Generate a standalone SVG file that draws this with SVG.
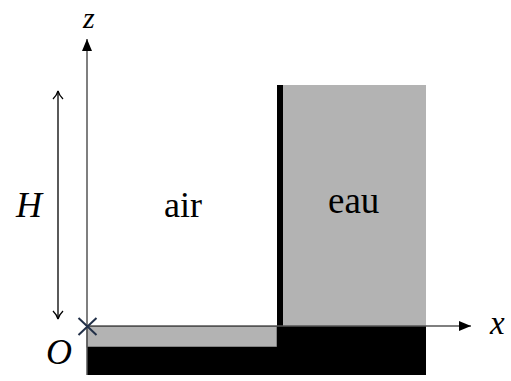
<svg xmlns="http://www.w3.org/2000/svg" width="511" height="381" viewBox="0 0 511 381">
<style>
.ax{stroke:#555;stroke-width:1.5;fill:none}
.grey{fill:#b3b3b3}
.blk{fill:#000}
</style>
<defs>
<marker id="tri" viewBox="0 0 12 10" refX="12" refY="5" markerWidth="12" markerHeight="10" markerUnits="userSpaceOnUse" orient="auto">
<path d="M0,0 L12,5 L0,10 Z" fill="#000"/>
</marker>
<marker id="open" viewBox="0 0 10 12" refX="9" refY="6" markerWidth="10" markerHeight="12" markerUnits="userSpaceOnUse" orient="auto-start-reverse">
<path d="M1,1 Q5,5 9,6 Q5,7 1,11" fill="none" stroke="#000" stroke-width="1.3"/>
</marker>
</defs>
<g id="water">
<rect class="grey" x="283" y="85" width="143" height="241"/>
</g>
<g id="wall">
<rect class="blk" x="277" y="85" width="6" height="242"/>
</g>
<g id="strip">
<rect class="grey" x="87" y="326.5" width="190" height="20.5" stroke="#555" stroke-width="1"/>
</g>
<g id="floor">
<path class="blk" d="M87,347 H277 V326 H426 V375 H87 Z"/>
</g>
<g id="connectors">
<line class="ax" x1="87" y1="375" x2="87" y2="39" marker-end="url(#tri)"/>
<line class="ax" x1="87" y1="326" x2="471" y2="326" marker-end="url(#tri)"/>
<line x1="58" y1="91" x2="58" y2="319" stroke="#000" stroke-width="1.3" marker-start="url(#open)" marker-end="url(#open)"/>
</g>
<g id="origin">
<path d="M78.5,318 L96.5,335 M96.5,318 L78.5,335" stroke="#223048" stroke-width="2"/>
</g>
<text x="83" y="28" font-family="Liberation Serif" font-style="italic" font-size="30">z</text>
<text x="490" y="334" font-family="Liberation Serif" font-style="italic" font-size="33">x</text>
<text x="46" y="364" font-family="Liberation Serif" font-style="italic" font-size="36">O</text>
<text x="16" y="217" font-family="Liberation Serif" font-style="italic" font-size="36">H</text>
<text x="164" y="217" font-family="Liberation Serif" font-size="36">air</text>
<text x="328" y="213" font-family="Liberation Serif" font-size="37">eau</text>
</svg>
